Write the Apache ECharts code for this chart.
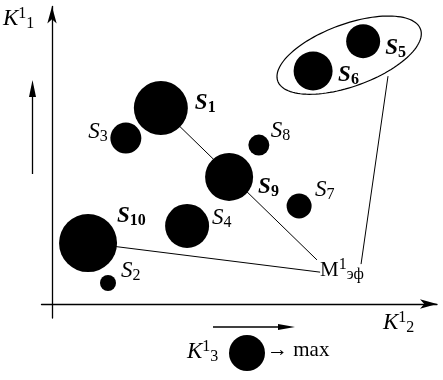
<!DOCTYPE html>
<html><head><meta charset="utf-8">
<script src="https://cdn.jsdelivr.net/npm/echarts@6/dist/echarts.min.js"></script>
<style>html,body{margin:0;padding:0;background:#fff}#c{width:443px;height:380px}</style>
</head><body><div id="c"></div>
<script>
// Alternatives S1..S10: K1_2 (x), K1_1 (y), K1_3 (bubble size)
const names = ['S1','S2','S3','S4','S5','S6','S7','S8','S9','S10'];
const k2 = [31.1, 16.0, 21.1, 38.6, 88.9, 74.6, 70.6, 59.1, 50.6, 10.3];
const k1 = [56.0, 6.0, 47.4, 22.3, 75.1, 66.6, 28.0, 45.4, 36.3, 17.4];
const k3 = [27, 8, 15.5, 22, 17, 19.5, 12.5, 10.5, 24, 29];
const boldNames = ['S1','S5','S6','S9','S10'];
// effective set point M1эф
const mPoint = [76.6, 9.7];
// connector lines (from -> to)
const linkFrom = [[10.3, 17.4], [31.1, 56.0], [96.0, 65.1]];
const linkTo = [[76.6, 9.1], [75.7, 12.6], [88.3, 11.4]];
// ellipse enclosing S5, S6 (center, semi-axes, angle deg)
const ellCenter = [84.9, 71.1];
const ellAxes = [21.7, 8.9];
const ellAngle = 20;

// label placement (pixel offsets from bubble centre), style only
const place = {
  S1: [34, -5, 'left'], S2: [13, -12, 'left'], S3: [-18, -6, 'right'],
  S4: [25, -8, 'left'], S5: [22, 7, 'left'], S6: [25, 4, 'left'],
  S7: [16, -16, 'left'], S8: [12, -14, 'left'], S9: [29, 10, 'left'],
  S10: [29, -27, 'left']
};

const FF = 'Liberation Serif';
const base = {fontFamily: FF, color: '#000', textBorderWidth: 0, textShadowBlur: 0};
const rich = {
  s:  Object.assign({}, base, {fontSize: 23, fontStyle: 'italic', lineHeight: 26}),
  sb: Object.assign({}, base, {fontSize: 23, fontStyle: 'italic', fontWeight: 'bold', lineHeight: 26}),
  n:  Object.assign({}, base, {fontSize: 16, lineHeight: 16, verticalAlign: 'bottom'}),
  nb: Object.assign({}, base, {fontSize: 16, fontWeight: 'bold', lineHeight: 16, verticalAlign: 'bottom'}),
  m:  Object.assign({}, base, {fontSize: 21, lineHeight: 26}),
  k:  Object.assign({}, base, {fontSize: 23, fontStyle: 'italic', lineHeight: 26}),
  sup:Object.assign({}, base, {fontSize: 16, lineHeight: 16, verticalAlign: 'top'}),
  sub:Object.assign({}, base, {fontSize: 16, lineHeight: 16, verticalAlign: 'bottom'}),
  t:  Object.assign({}, base, {fontSize: 21, lineHeight: 26})
};

const bubbleData = names.map((nm, i) => {
  const p = place[nm];
  const bold = boldNames.indexOf(nm) >= 0;
  const num = nm.slice(1);
  return {
    value: [k2[i], k1[i], k3[i]],
    label: {
      show: true, position: 'inside', align: p[2], verticalAlign: 'middle',
      offset: [p[0], p[1]], color: '#000', textBorderWidth: 0, rich: rich,
      formatter: bold ? '{sb|S}{nb|' + num + '}' : '{s|S}{n|' + num + '}'
    }
  };
});

const staticGraphics = [
  {type: 'text', left: 3, top: 6, style: {text: '{k|K}{sup|1}{sub|1}', rich: rich}},
  {type: 'text', left: 383, top: 310, style: {text: '{k|K}{sup|1}{sub|2}', rich: rich}},
  {type: 'text', left: 187, top: 339, style: {text: '{k|K}{sup|1}{sub|3}', rich: rich}},
  {type: 'circle', shape: {cx: 247, cy: 353, r: 18}, style: {fill: '#000'}},
  {type: 'text', left: 267, top: 340, style: {text: '{t|→ max}', rich: rich}},
  {type: 'line', shape: {x1: 32.5, y1: 174, x2: 32.5, y2: 92}, style: {stroke: '#000', lineWidth: 1.3}},
  {type: 'polygon', shape: {points: [[32.5, 80], [29, 97], [36, 97]]}, style: {fill: '#000'}},
  {type: 'line', shape: {x1: 213, y1: 327, x2: 283, y2: 327}, style: {stroke: '#000', lineWidth: 1.3}},
  {type: 'polygon', shape: {points: [[295, 327], [278, 324], [278, 330]]}, style: {fill: '#000'}}
];

const chart = echarts.init(document.getElementById('c'), null, {renderer: 'canvas'});
chart.setOption({
  animation: false,
  backgroundColor: '#fff',
  grid: {left: 41.5, right: 6, top: 6.5, bottom: 62, containLabel: false},
  xAxis: {
    type: 'value', min: -3, max: 110,
    axisLine: {show: true, onZero: true, symbol: ['none', 'arrow'], symbolSize: [7, 17],
      lineStyle: {color: '#000', width: 1.3}},
    axisTick: {show: false}, axisLabel: {show: false}, splitLine: {show: false}
  },
  yAxis: {
    type: 'value', min: -4, max: 85,
    axisLine: {show: true, onZero: true, symbol: ['none', 'arrow'], symbolSize: [7, 17],
      lineStyle: {color: '#000', width: 1.3}},
    axisTick: {show: false}, axisLabel: {show: false}, splitLine: {show: false}
  },
  series: [
    {
      type: 'lines', coordinateSystem: 'cartesian2d', z: 1,
      lineStyle: {color: '#000', width: 1, opacity: 1},
      data: linkFrom.map((f, i) => ({coords: [f, linkTo[i]]}))
    },
    {
      type: 'custom', z: 1, clip: false,
      data: [[ellCenter[0], ellCenter[1], ellAxes[0], ellAxes[1], ellAngle]],
      renderItem: function (params, api) {
        const cx = api.value(0), cy = api.value(1), a = api.value(2), b = api.value(3);
        const th = api.value(4) * Math.PI / 180;
        const pts = [];
        for (let j = 0; j < 120; j++) {
          const t = j / 120 * 2 * Math.PI;
          const x = cx + a * Math.cos(t) * Math.cos(th) - b * Math.sin(t) * Math.sin(th);
          const y = cy + a * Math.cos(t) * Math.sin(th) + b * Math.sin(t) * Math.cos(th);
          pts.push(api.coord([x, y]));
        }
        return {type: 'polygon', shape: {points: pts},
          style: {fill: 'none', stroke: '#000', lineWidth: 1.2}};
      }
    },
    {
      type: 'scatter', z: 3,
      symbol: 'circle',
      symbolSize: function (v) { return v[2] * 2; },
      itemStyle: {color: '#000', opacity: 1},
      data: bubbleData
    }
  ],
  graphic: staticGraphics
});

// M1эф label placed at its data coordinate
const mPx = chart.convertToPixel({gridIndex: 0}, mPoint);
chart.setOption({
  graphic: staticGraphics.concat([{
    type: 'text', x: mPx[0], y: mPx[1],
    style: {text: '{m|M}{sup|1}{sub|эф}', rich: rich, align: 'left', verticalAlign: 'middle'}
  }])
});
</script></body></html>
